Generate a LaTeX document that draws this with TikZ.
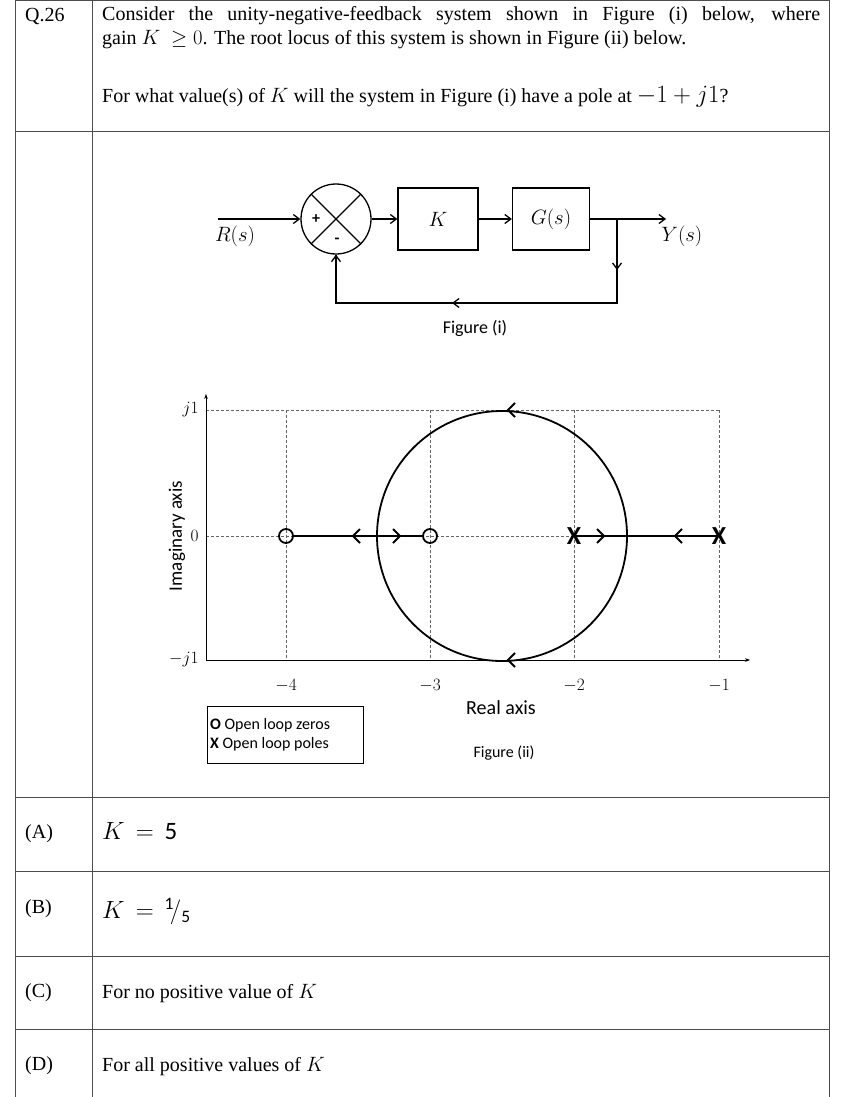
\documentclass[tikz,border=0pt]{standalone}
\usepackage{fontspec}
\setmainfont{Liberation Serif}
\setsansfont{Carlito}
\usetikzlibrary{arrows.meta,decorations.markings}
\begin{document}
\begin{tikzpicture}[x=1pt,y=-1pt,
  grid/.style={line width=0.8pt,black!70},
  blk/.style={draw,line width=1.3pt,minimum width=80pt,minimum height=62pt,inner sep=0},
  sig/.style={line width=1.3pt,-{Straight Barb[length=6pt,width=9pt]}},
  dsh/.style={densely dashed,line width=0.6pt,black!60},
  loc/.style={line width=1.8pt},
  lab/.style={font=\fontsize{20}{24}\selectfont,anchor=north west,inner sep=0},
  sl/.style={font=\sffamily\fontsize{16}{19}\selectfont}]
\useasboundingbox (0,0) rectangle (845,1097);
% table
\draw[grid] (15,0) rectangle (829,1097);
\draw[grid] (92,0) -- (92,1097);
\foreach \y in {131,797,871,956,1029} \draw[grid] (15,\y) -- (829,\y);
\node[lab] (q) at (25,8) {Q.26};
\node[lab,text width=718pt,align=justify] (t1) at (102,6) {Consider the unity-negative-feedback system shown in Figure (i) below, where\linebreak gain $K\ \geq 0$. The root locus of this system is shown in Figure (ii) below.};
\node[lab] (t2) at (102,86) {For what value(s) of $K$ will the system in Figure (i) have a pole at {\fontsize{25}{26}\selectfont$-1+j1$}?};
% options
\node[lab] (oa) at (25,824) {(A)};
\node[lab,font=\sffamily\fontsize{25}{28}\selectfont] (va) at (102,822) {$K\,=\,\mathsf{5}$};
\node[lab] (ob) at (25,899) {(B)};
\node[lab,font=\sffamily\fontsize{25}{28}\selectfont] (vb) at (102,898) {$K\,=\,{}^{\mathsf{1}}\!/_{\mathsf{5}}$};
\node[lab] (oc) at (25,983) {(C)};
\node[lab] (vc) at (102,984) {For no positive value of $K$};
\node[lab] (od) at (25,1056) {(D)};
\node[lab] (vd) at (102,1057) {For all positive values of $K$};
% block diagram
\node[draw,circle,line width=1.3pt,minimum size=70pt,inner sep=0] (sum) at (336,219) {};
\draw[line width=1.3pt] (sum.north west) -- (sum.south east) (sum.north east) -- (sum.south west);
\node[font=\sffamily\bfseries\fontsize{16}{16}\selectfont] (plus) at (316,219) {+};
\node[font=\sffamily\bfseries\fontsize{16}{16}\selectfont] (minus) at (337,241) {-};
\node[blk] (k) at (438,219) {\fontsize{20}{22}\selectfont$K$};
\node[blk,minimum width=77pt] (g) at (551,219) {\fontsize{20}{22}\selectfont$G(s)$};
\coordinate (in) at (218,219);
\coordinate (out) at (666,219);
\coordinate (tap) at (617,219);
\coordinate (tapd) at (617,303);
\coordinate (fbl) at (336,303);
\draw[sig] (in) -- (sum.west);
\draw[sig] (sum.east) -- (k.west);
\draw[sig] (k.east) -- (g.west);
\draw[sig] (g.east) -- (out);
\draw[line width=1.3pt] (tap) -- (tapd) -- (fbl) -- (sum.south);
\draw[sig] (tap) -- (617,270);
\draw[sig] (617,303) -- (452,303);
\draw[sig] (fbl) -- (sum.south);
\node[font=\fontsize{20}{22}\selectfont] (r) at (235,236) {$R(s)$};
\node[font=\fontsize{20}{22}\selectfont] (yo) at (682,236) {$Y(s)$};
\node[sl,font=\sffamily\fontsize{18}{20}\selectfont] (f1) at (475,328) {Figure (i)};
% root locus
\foreach \x in {286,430,574,719} \draw[dsh] (\x,410) -- (\x,660);
\draw[dsh] (206,410) -- (719,410);
\draw[dsh] (206,536) -- (719,536);
\draw[line width=1pt,-{Stealth[length=5pt]}] (206,660) -- (206,394);
\draw[line width=1pt,-{Stealth[length=5pt]}] (206,660) -- (750,660);
\draw[loc] (502,536) circle (125);
\draw[loc] (292,536) -- (424,536);
\draw[loc] (574,536) -- (719,536);
\foreach \a/\b in {353/360,400/393,604/597,675/682}
  \draw[line width=1.8pt] (\b,529) -- (\a,536) -- (\b,543);
\draw[line width=1.8pt] (515,403) -- (508,410) -- (515,417);
\draw[line width=1.8pt] (515,653) -- (508,660) -- (515,667);
\node[draw,circle,line width=1.8pt,minimum size=14pt,inner sep=0] (z1) at (286,536) {};
\node[draw,circle,line width=1.8pt,minimum size=14pt,inner sep=0] (z2) at (430,536) {};
\node[font=\sffamily\bfseries\fontsize{26}{26}\selectfont,inner sep=0] (p1) at (574,536) {X};
\node[font=\sffamily\bfseries\fontsize{26}{26}\selectfont,inner sep=0] (p2) at (719,536) {X};
\node[font=\fontsize{18}{20}\selectfont,anchor=east] (yj1) at (202,410) {$j1$};
\node[font=\fontsize{18}{20}\selectfont,anchor=east] (y0) at (202,536) {$0$};
\node[font=\fontsize{18}{20}\selectfont,anchor=east] (ym) at (202,660) {$-j1$};
\foreach \x/\l in {286/-4,430/-3,574/-2,719/-1} \node[font=\fontsize{18}{20}\selectfont] at (\x,686) {$\l$};
\node[sl,rotate=90,font=\sffamily\fontsize{19}{22}\selectfont] (ia) at (177,536) {Imaginary axis};
\node[sl,font=\sffamily\fontsize{20}{22}\selectfont] (ra) at (501,708) {Real axis};
\node[draw,line width=0.8pt,minimum width=156pt,minimum height=57pt] (leg) at (285,735) {};
\node[font=\sffamily\fontsize{16}{20}\selectfont,anchor=west,align=left,inner sep=0] (legt) at (210,735) {\textbf{O} Open loop zeros\\[-1pt]\textbf{X} Open loop poles};
\node[sl,font=\sffamily\fontsize{16}{18}\selectfont] (f2) at (504,753) {Figure (ii)};
\end{tikzpicture}
\end{document}
